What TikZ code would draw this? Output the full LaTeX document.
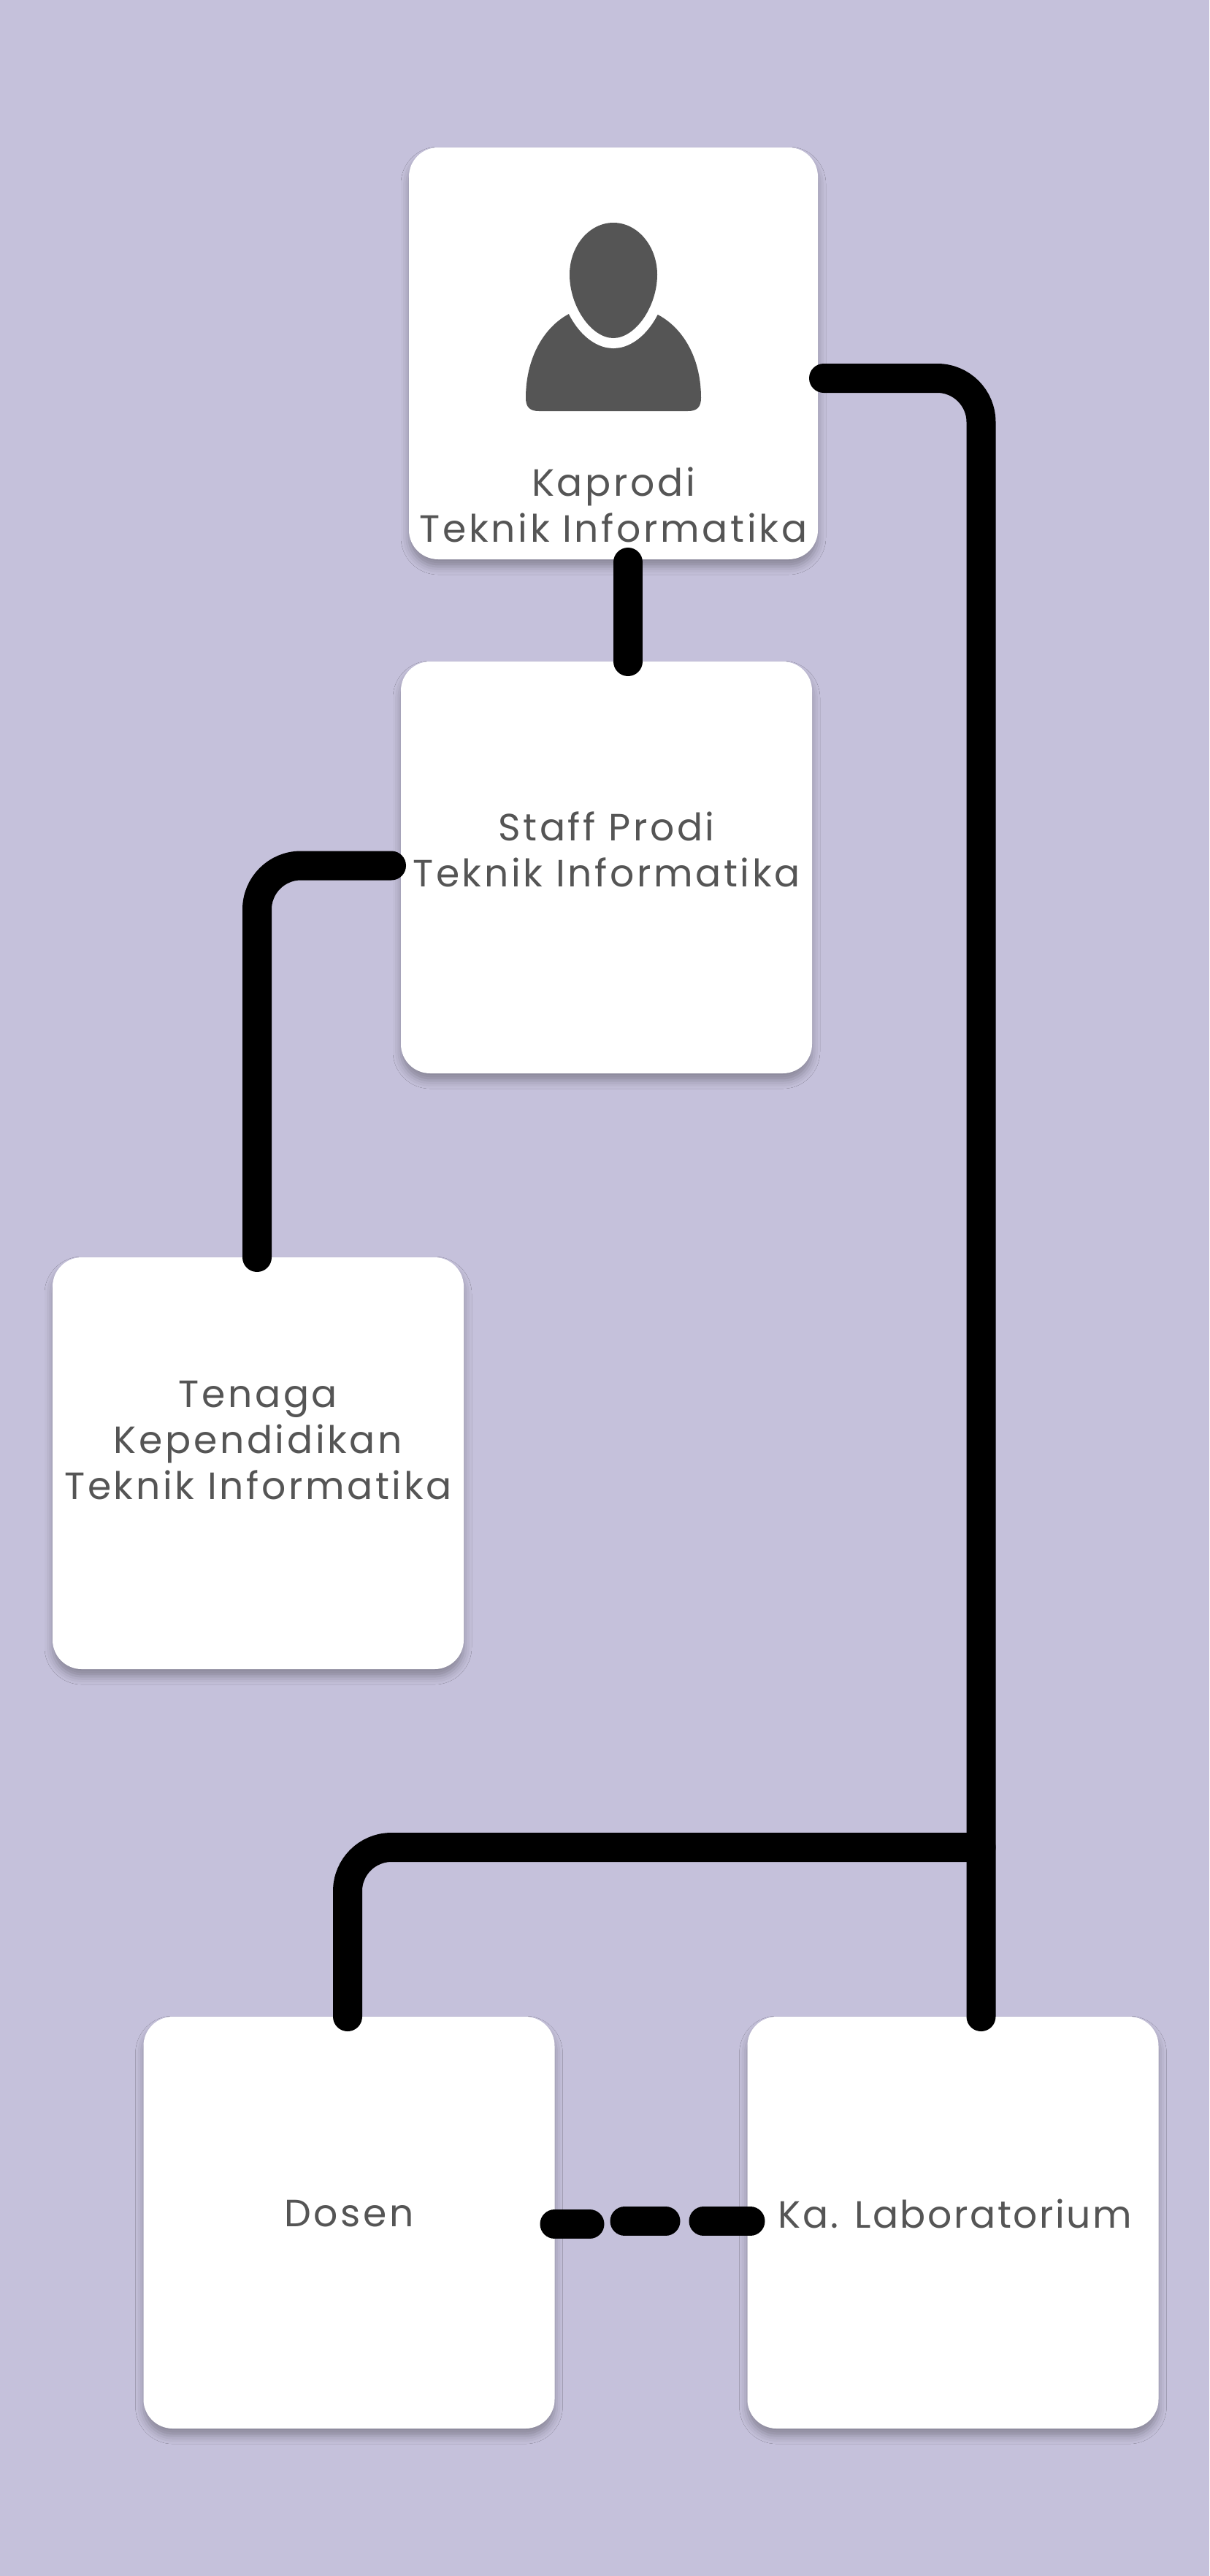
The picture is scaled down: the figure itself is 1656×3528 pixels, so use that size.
\documentclass[tikz,border=0pt]{standalone}
\usepackage{fontspec}
\setmainfont[LetterSpace=7]{Poppins}
\usetikzlibrary{positioning,shadows.blur}
\definecolor{pagebg}{HTML}{C5C1DB}
\definecolor{inkgray}{HTML}{555555}
\tikzset{
    cardbox/.style={fill=white, rounded corners=20pt, inner sep=0pt, outer sep=0pt,
        minimum width=281.5pt, minimum height=282pt,
        blur shadow={shadow xshift=0pt, shadow yshift=-5pt, shadow blur radius=5.5pt, shadow opacity=30}},
    cardtext/.style={align=center, text=inkgray, font=\fontsize{26pt}{31.5pt}\selectfont},
    orgline/.style={draw=black, line width=20pt, line cap=round, rounded corners=30pt},
}
\begin{document}
\begin{tikzpicture}
[x=0.5pt, y=-0.5pt]
\fill[pagebg] (0,0) rectangle (1656,3528);
\path[use as bounding box] (0,0) rectangle (1656,3528);
\node[cardbox, minimum width=280pt] (kaprodi) at (840,484) {};
\node[cardbox, below=70pt of kaprodi, xshift=-4.75pt] (staff) {};
\node[cardbox, below=126pt of staff, xshift=-238.5pt] (tenaga) {};
\node[cardbox, below=238pt of tenaga, xshift=62.25pt] (dosen) {};
\node[cardbox, right=132pt of dosen] (lab) {};
% person icon
\fill[inkgray] (720,545) .. controls (720,490) and (745,448) .. (779,430) -- (899,430)
    .. controls (935,448) and (960,490) .. (960,545) .. controls (960,558) and (954,563) .. (942,563)
    -- (738,563) .. controls (726,563) and (720,558) .. (720,545) -- cycle;
\path[fill=inkgray, preaction={draw=white, line width=14pt}] (840,305) .. controls (873,305) and (900,337) .. (900,376)
    .. controls (900,420) and (870,463) .. (840,463) .. controls (810,463) and (780,420) .. (780,376)
    .. controls (780,337) and (807,305) .. (840,305) -- cycle;
% texts
\node[cardtext] (kaprodilabel) at ([yshift=-103.5pt]kaprodi) {Kaprodi\\Teknik Informatika};
\node[cardtext] (stafflabel) at ([yshift=12.5pt]staff) {Staff Prodi\\Teknik Informatika};
\node[cardtext] (tenagalabel) at ([yshift=15.5pt]tenaga) {Tenaga\\Kependidikan\\Teknik Informatika};
\node[cardtext] (dosenlabel) at ([yshift=6pt]dosen) {Dosen};
\node[cardtext] (lablabel) at ([xshift=1.5pt,yshift=6pt]lab) {\addfontfeature{LetterSpace=4.9}Ka. Laboratorium};
% connectors
\coordinate (branch) at ([xshift=19.25pt,yshift=116pt]lab.north);
\draw[orgline] ([shift={(4pt,-17pt)}]kaprodi.east) -| ([xshift=19.25pt]lab.north);
\draw[orgline] ([xshift=10pt,yshift=-2pt]kaprodi.south) -- ([xshift=14.75pt]staff.north);
\draw[orgline] ([shift={(-6.5pt,1.25pt)}]staff.west) -| ([xshift=-0.75pt]tenaga.north);
\draw[orgline] (branch) -| ([xshift=-1pt]dosen.north);
\draw[orgline, rounded corners=0pt, dash pattern=on 24pt off 26pt on 28pt off 26pt on 32pt off 50pt]
    ([yshift=-1pt]dosen.east) -- ++(36pt,0) -- ++(0,2pt) -- ([shift={(2pt,1pt)}]lab.west);
\end{tikzpicture}
\end{document}
